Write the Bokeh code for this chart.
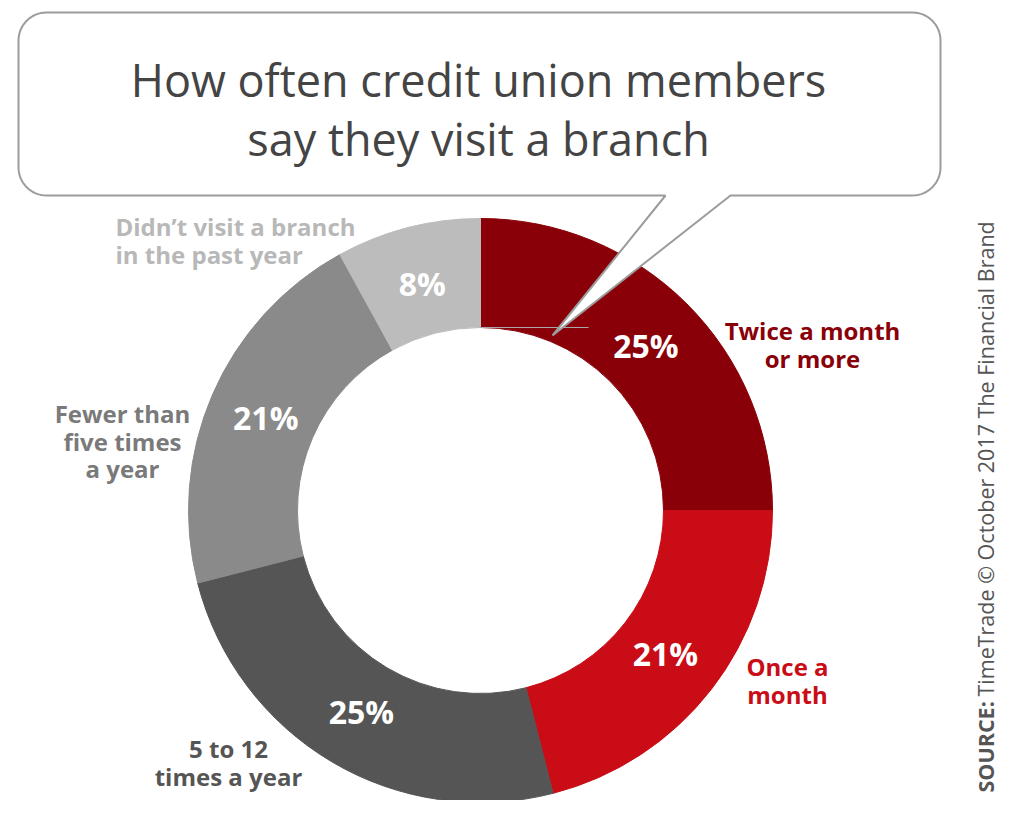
import numpy as np

from bokeh.core.properties import value
from bokeh.embed import file_html
from bokeh.models import Range1d
from bokeh.plotting import figure
from bokeh.resources import INLINE


# Data
categories = [
    ["Twice a month", "or more"],
    ["Once a", "month"],
    ["5 to 12", "times a year"],
    ["Fewer than", "five times", "a year"],
    ["Didn\u2019t visit a branch", "in the past year"],
]
shares = [25, 21, 25, 21, 8]
slice_colors = ["#8a0009", "#c90c15", "#555555", "#8a8a8a", "#bcbcbc"]
label_colors = ["#8a0009", "#c90c15", "#555555", "#7a7a7a", "#b8b8b8"]
title_lines = ["How often credit union members", "say they visit a branch"]
source_bold = "SOURCE:"
source_rest = "TimeTrade \u00a9 October 2017 The Financial Brand"

FONT = "Open Sans"
H = 818  # page height, y flipped so that positions read like screen pixels


def Y(py):
    return H - py


p = figure(
    width=1000, height=800,
    x_range=Range1d(0, 1000), y_range=Range1d(Y(800), Y(0)),
    x_axis_type=None, y_axis_type=None,
    toolbar_location=None, output_backend="svg",
    min_border=0, outline_line_color=None,
    background_fill_color="white",
)
p.grid.visible = False

# Donut
cx, cy = 480, Y(510)
r_in, r_out = 183, 292
cum = np.cumsum([0] + shares) / sum(shares)
start = np.pi / 2 - 2 * np.pi * cum[:-1]
end = np.pi / 2 - 2 * np.pi * cum[1:]
p.annular_wedge(
    x=cx, y=cy, inner_radius=r_in, outer_radius=r_out,
    start_angle=start, end_angle=end, direction="clock",
    fill_color=slice_colors, line_color=slice_colors, line_width=1,
)

# percentages inside the ring
mid = (start + end) / 2
r_lab = 234
p.text(
    x=cx + r_lab * np.cos(mid), y=cy + r_lab * np.sin(mid),
    text=[f"{s}%" for s in shares],
    text_align="center", text_baseline="middle",
    text_font=value(FONT), text_font_style="bold",
    text_font_size="32px", text_color="white",
)

# faint line left under the bubble tip
p.segment(x0=480, y0=Y(327), x1=588, y1=Y(327), line_color="#a8a8a8", line_width=1)

# Speech bubble
def arc(ax, ay, r, a0, a1, n=16):
    t = np.radians(np.linspace(a0, a1, n))
    return list(ax + r * np.cos(t)), list(ay + r * np.sin(t))

bx0, bx1, by0, by1, br = 18, 940, 12, 195, 28
xs, ys = [], []
for (ax, ay, a0, a1) in [(bx0 + br, by0 + br, 180, 270),
                         (bx1 - br, by0 + br, 270, 360),
                         (bx1 - br, by1 - br, 0, 90)]:
    ax_, ay_ = arc(ax, ay, br, a0, a1)
    xs += ax_
    ys += ay_
xs += [730, 552, 665]
ys += [by1, 335, by1]
ax_, ay_ = arc(bx0 + br, by1 - br, br, 90, 180)
xs += ax_
ys += ay_
p.patch(x=xs, y=[Y(v) for v in ys], fill_color="white",
        line_color="#9c9c9c", line_width=2)

p.text(
    x=[478, 478], y=[Y(79), Y(138)], text=title_lines,
    text_align="center", text_baseline="middle",
    text_font=value(FONT), text_font_size="45px", text_color="#444444",
)

# Category labels
label_pos = [(812, 330, "center"), (787, 666, "center"), (228, 748, "center"),
             (122, 413, "center"), (115, 226, "left")]
step = 27.5
for lines, color, (lx, ly, align) in zip(categories, label_colors, label_pos):
    p.text(
        x=[lx] * len(lines), y=[Y(ly + i * step) for i in range(len(lines))],
        text=lines, text_align=align, text_baseline="middle",
        text_font=value(FONT), text_font_style="bold",
        text_font_size="24px", text_color=color,
    )

# Source, rotated
p.text(x=[985], y=[Y(792)], text=[source_bold], angle=np.pi / 2,
       text_align="left", text_baseline="middle",
       text_font=value(FONT), text_font_style="bold",
       text_font_size="21.5px", text_color="#555555")
p.text(x=[985], y=[Y(696)], text=[source_rest], angle=np.pi / 2,
       text_align="left", text_baseline="middle",
       text_font=value(FONT), text_font_size="21.5px", text_color="#555555")

open("out.html", "w").write(file_html(p, INLINE))
